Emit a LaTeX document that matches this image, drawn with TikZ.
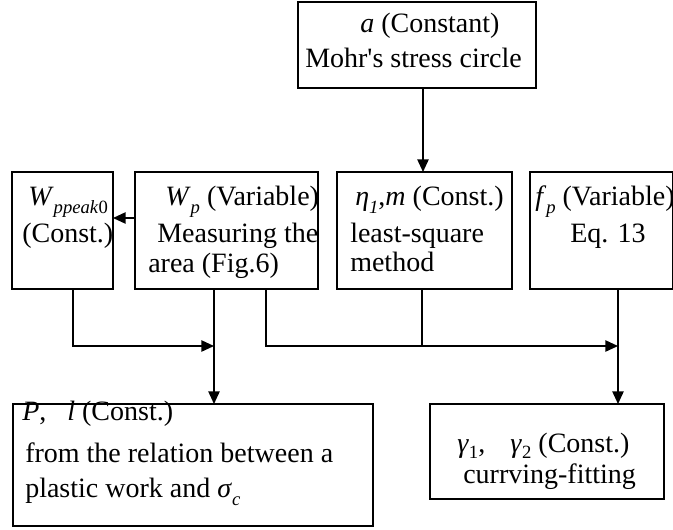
\documentclass[tikz,border=0pt]{standalone}
\usepackage{fontspec}
\setmainfont{Liberation Serif}
\newfontfamily\plainserif{Liberation Serif}
\usetikzlibrary{arrows.meta}
\newcommand\lowsub[1]{\raisebox{-0.32em}{\fontsize{14}{14}\selectfont #1}}
\newcommand\gsub[1]{\raisebox{-0.22em}{\fontsize{14}{14}\selectfont #1}}
\tikzset{
  box/.style n args={2}{draw, line width=1.1pt, minimum width=#1*0.75pt, minimum height=#2*0.75pt, inner sep=0pt, outer sep=0pt},
  txt/.style={anchor=base west, inner sep=0pt, font=\fontsize{21}{25}\selectfont},
  conn/.style={line width=1.1pt},
  arr/.style={line width=1.1pt, -{Triangle[length=9.5pt,width=8.5pt]}}
}
\begin{document}
\begin{tikzpicture}[x=0.75pt,y=-0.75pt]
\useasboundingbox (0,0) rectangle (673,529);
% boxes
\node[box={238}{86}]   (top) at (417,45) {};
\node[box={101}{117}]  (wpk) at (62.5,230.5) {};
\node[box={183}{117}]  (wp)  at (226.5,230.5) {};
\node[box={175}{117}]  (eta) at (424.5,230.5) {};
\node[box={142.4}{117}] (fp) at (601.2,230.5) {};
\node[box={360}{122}]  (res1) at (193,465) {};
\node[box={234}{95}]   (res2) at (547,451.5) {};
% texts
\node[txt] (t1) at (360,32) {\textit{a} (Constant)};
\node[txt] (t2) at (305,67) {Mohr{\plainserif'}s stress circle};
\node[txt] (w1) at (28,205) {\textit{W}\lowsub{\textit{ppeak}0}};
\node[txt] (w2) at (22,242) {(Const.)};
\node[txt] (p1) at (165,205) {\textit{W}\lowsub{\textit{p}} (Variable)};
\node[txt] (p2) at (157,242) {Measuring the};
\node[txt] (p3) at (148,272) {area (Fig.6)};
\node[txt] (e1) at (355,205) {\textit{η}\lowsub{\textit{1}},\textit{m} (Const.)};
\node[txt] (e2) at (350,242) {least-square};
\node[txt] (e3) at (350,271) {method};
\node[txt] (f1) at (535,205) {\textit{f}\lowsub{\textit{p}} (Variable)};
\node[txt] (f2) at (570,242) {Eq. 13};
\node[txt] (l1) at (22,420) {\textit{P},\hspace{0.75em}\textit{l} (Const.)};
\node[txt] (l2) at (25,462) {from the relation between a};
\node[txt] (l3) at (25,497) {plastic work and \textit{σ}\lowsub{\textit{c}}};
\node[txt] (r1) at (457,452) {\textit{γ}\gsub{1},\hspace{0.9em}\textit{γ}\gsub{2} (Const.)};
\node[txt] (r2) at (463,483) {currving-fitting};
% x positions of connectors
\coordinate (xa) at (423,0);
\coordinate (xc) at (73,0);
\coordinate (xd) at (214,0);
\coordinate (xg) at (266,0);
\coordinate (xh) at (422,0);
\coordinate (xk) at (618,0);
\coordinate (yb) at (0,218);
\coordinate (ym) at (0,346);
% connectors
\draw[arr] (top.south -| xa) -- (eta.north -| xa);
\draw[arr] (wp.west |- yb) -- (wpk.east |- yb);
\draw[arr] (wpk.south -| xc) -- (xc |- ym) -- (xd |- ym);
\draw[arr] (wp.south -| xd) -- (res1.north -| xd);
\draw[arr] (wp.south -| xg) -- (xg |- ym) -- (xk |- ym);
\draw[conn] (eta.south -| xh) -- (xh |- ym);
\draw[arr] (fp.south -| xk) -- (res2.north -| xk);
\end{tikzpicture}
\end{document}
